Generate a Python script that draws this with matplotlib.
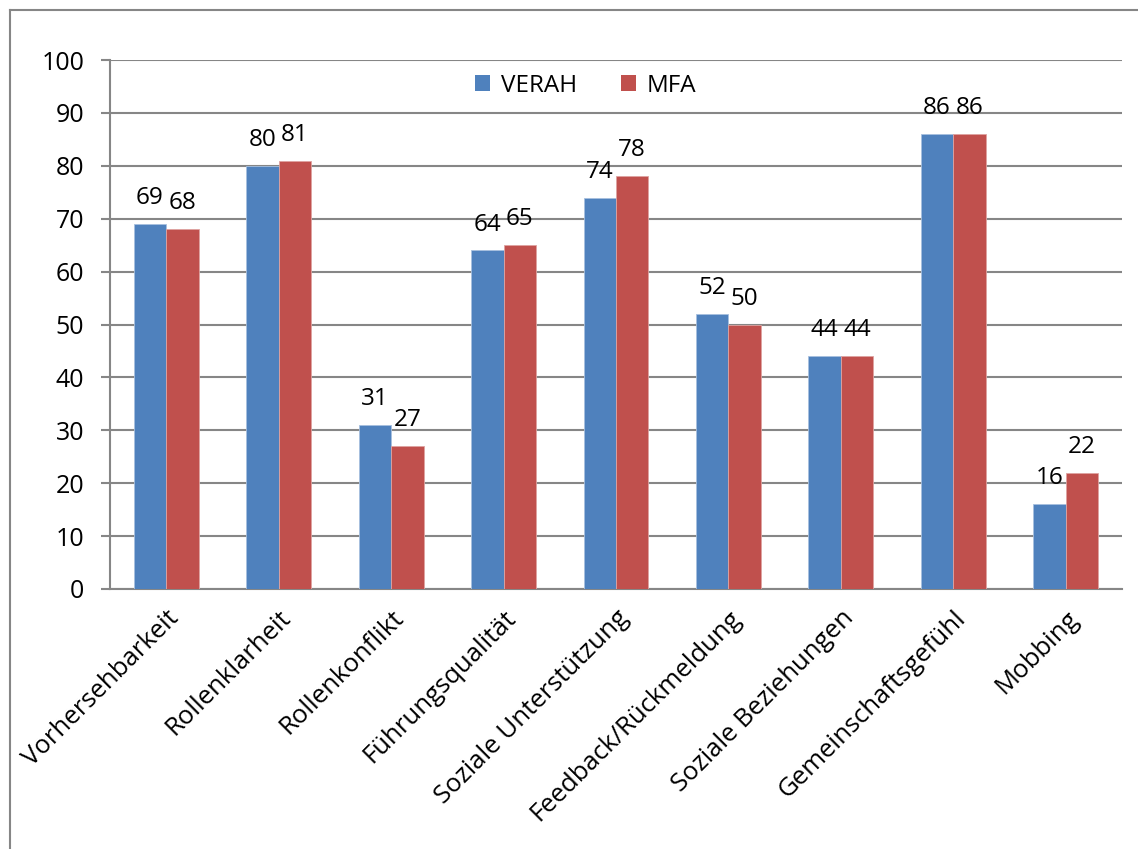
import matplotlib
matplotlib.use("Agg")
import matplotlib.pyplot as plt
from matplotlib.lines import Line2D
from matplotlib.patches import Patch
import numpy as np

categories = ["Vorhersehbarkeit", "Rollenklarheit", "Rollenkonflikt", "Führungsqualität",
              "Soziale Unterstützung", "Feedback/Rückmeldung", "Soziale Beziehungen",
              "Gemeinschaftsgefühl", "Mobbing"]
verah = [69, 80, 31, 64, 74, 52, 44, 86, 16]
mfa = [68, 81, 27, 65, 78, 50, 44, 86, 22]
series_names = ["VERAH", "MFA"]
y_ticks = [0, 10, 20, 30, 40, 50, 60, 70, 80, 90, 100]

BLUE = "#4F81BD"
RED = "#C0504D"
GRAY = "#868686"

plt.rcParams["font.family"] = ["Open Sans", "DejaVu Sans"]
FS = 17.5

W, H = 1138, 849
fig = plt.figure(figsize=(W / 100, H / 100), dpi=100)
ax = fig.add_axes([110 / W, 1 - 589 / H, 1012 / W, 529 / H])

x = np.arange(len(categories))
bw = 0.289
b1 = ax.bar(x - bw / 2, verah, bw, color=BLUE, edgecolor="#a7c0df", linewidth=0.6, zorder=3)
b2 = ax.bar(x + bw / 2, mfa, bw, color=RED, edgecolor="#dea3a1", linewidth=0.6, zorder=3)

for bars, vals in ((b1, verah), (b2, mfa)):
    for rect, v in zip(bars, vals):
        ax.annotate(str(v), (rect.get_x() + rect.get_width() / 2, v),
                    xytext=(0, 10), textcoords="offset points",
                    ha="center", va="bottom", fontsize=FS, color="black", zorder=4)

ax.set_xlim(-0.5, len(categories) - 0.5)
ax.set_ylim(0, 100)
ax.set_yticks(y_ticks)
ax.yaxis.grid(True, color=GRAY, linewidth=1.5, zorder=0)
ax.set_axisbelow(True)
ax.tick_params(axis="y", length=6.5, width=1.5, color=GRAY, pad=12, labelsize=18)
ax.set_xticks(x)
ax.set_xticklabels(categories, rotation=45, ha="right", rotation_mode="anchor", fontsize=18.5)
ax.tick_params(axis="x", length=0, pad=12)

for s in ("top", "right"):
    ax.spines[s].set_visible(False)
for s in ("left", "bottom"):
    ax.spines[s].set_color(GRAY)
    ax.spines[s].set_linewidth(1.5)

handles = [Patch(facecolor=BLUE, edgecolor="none"), Patch(facecolor=RED, edgecolor="none")]
ax.legend(handles, series_names, loc="center", bbox_to_anchor=(0.47, 0.951), ncol=2,
          frameon=False, fontsize=FS, handlelength=0.62, handleheight=0.62,
          handletextpad=0.45, columnspacing=1.8)

# chart area border (left and top edges)
fig.add_artist(Line2D([9.5 / W, 9.5 / W], [0, 1 - 9.5 / H], transform=fig.transFigure,
                      color=GRAY, linewidth=1.5))
fig.add_artist(Line2D([9.5 / W, 1], [1 - 9.5 / H, 1 - 9.5 / H], transform=fig.transFigure,
                      color=GRAY, linewidth=1.5))

fig.savefig("out.png", dpi=100, facecolor="white")
